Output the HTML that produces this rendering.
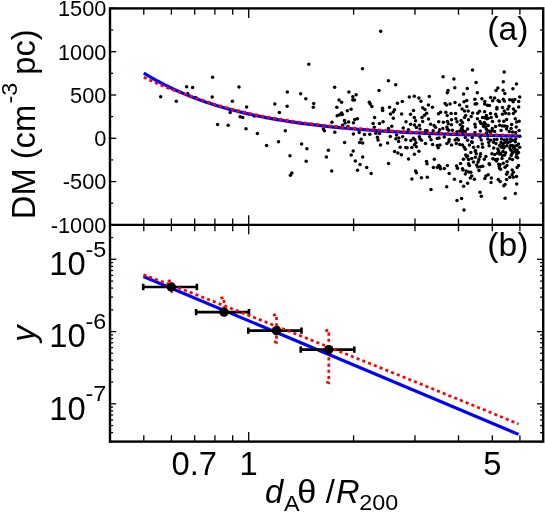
<!DOCTYPE html>
<html><head><meta charset="utf-8"><style>html,body{margin:0;padding:0;background:#fff}svg{display:block;will-change:transform}text{font-family:"Liberation Sans",sans-serif;fill:#000}</style></head><body>
<svg width="545" height="513" viewBox="0 0 545 513">
<rect width="545" height="513" fill="#fff"/>
<g fill="#000">
<circle cx="160.7" cy="96.8" r="1.75"/>
<circle cx="176.3" cy="101.2" r="1.75"/>
<circle cx="186.6" cy="86.7" r="1.75"/>
<circle cx="192.6" cy="87.4" r="1.75"/>
<circle cx="187.7" cy="93.5" r="1.75"/>
<circle cx="195.7" cy="97.4" r="1.75"/>
<circle cx="212.6" cy="77.2" r="1.75"/>
<circle cx="212.2" cy="97.0" r="1.75"/>
<circle cx="232.4" cy="101.2" r="1.75"/>
<circle cx="230.2" cy="112.6" r="1.75"/>
<circle cx="239.0" cy="86.9" r="1.75"/>
<circle cx="246.6" cy="107.1" r="1.75"/>
<circle cx="240.1" cy="116.8" r="1.75"/>
<circle cx="242.7" cy="117.5" r="1.75"/>
<circle cx="254.3" cy="116.1" r="1.75"/>
<circle cx="274.8" cy="104.0" r="1.75"/>
<circle cx="279.4" cy="112.4" r="1.75"/>
<circle cx="287.3" cy="91.9" r="1.75"/>
<circle cx="287.1" cy="106.3" r="1.75"/>
<circle cx="300.7" cy="93.7" r="1.75"/>
<circle cx="305.8" cy="98.8" r="1.75"/>
<circle cx="308.8" cy="64.3" r="1.75"/>
<circle cx="313.7" cy="103.6" r="1.75"/>
<circle cx="313.3" cy="107.3" r="1.75"/>
<circle cx="334.6" cy="87.3" r="1.75"/>
<circle cx="331.9" cy="122.2" r="1.75"/>
<circle cx="380.7" cy="31.3" r="1.75"/>
<circle cx="362.5" cy="68.7" r="1.75"/>
<circle cx="388.4" cy="80.8" r="1.75"/>
<circle cx="395.7" cy="84.7" r="1.75"/>
<circle cx="379.0" cy="90.4" r="1.75"/>
<circle cx="348.9" cy="91.9" r="1.75"/>
<circle cx="356.1" cy="94.8" r="1.75"/>
<circle cx="352.8" cy="96.8" r="1.75"/>
<circle cx="339.0" cy="100.1" r="1.75"/>
<circle cx="341.6" cy="102.3" r="1.75"/>
<circle cx="352.8" cy="100.1" r="1.75"/>
<circle cx="354.4" cy="100.1" r="1.75"/>
<circle cx="336.8" cy="107.3" r="1.75"/>
<circle cx="351.1" cy="109.3" r="1.75"/>
<circle cx="347.3" cy="110.8" r="1.75"/>
<circle cx="341.6" cy="113.1" r="1.75"/>
<circle cx="342.3" cy="114.6" r="1.75"/>
<circle cx="337.2" cy="115.7" r="1.75"/>
<circle cx="339.6" cy="114.8" r="1.75"/>
<circle cx="344.5" cy="120.5" r="1.75"/>
<circle cx="348.6" cy="122.1" r="1.75"/>
<circle cx="354.8" cy="119.5" r="1.75"/>
<circle cx="357.4" cy="118.7" r="1.75"/>
<circle cx="369.3" cy="102.3" r="1.75"/>
<circle cx="370.2" cy="104.1" r="1.75"/>
<circle cx="371.9" cy="106.5" r="1.75"/>
<circle cx="374.6" cy="117.4" r="1.75"/>
<circle cx="382.5" cy="108.2" r="1.75"/>
<circle cx="382.7" cy="110.4" r="1.75"/>
<circle cx="383.1" cy="121.7" r="1.75"/>
<circle cx="389.5" cy="107.3" r="1.75"/>
<circle cx="397.4" cy="103.2" r="1.75"/>
<circle cx="402.3" cy="101.4" r="1.75"/>
<circle cx="394.6" cy="109.7" r="1.75"/>
<circle cx="393.2" cy="112.0" r="1.75"/>
<circle cx="390.5" cy="114.0" r="1.75"/>
<circle cx="393.3" cy="118.3" r="1.75"/>
<circle cx="401.6" cy="114.0" r="1.75"/>
<circle cx="409.3" cy="97.0" r="1.75"/>
<circle cx="414.3" cy="96.3" r="1.75"/>
<circle cx="418.9" cy="98.1" r="1.75"/>
<circle cx="420.9" cy="101.2" r="1.75"/>
<circle cx="429.3" cy="96.6" r="1.75"/>
<circle cx="428.4" cy="104.9" r="1.75"/>
<circle cx="432.4" cy="107.3" r="1.75"/>
<circle cx="422.7" cy="107.8" r="1.75"/>
<circle cx="424.9" cy="109.5" r="1.75"/>
<circle cx="413.5" cy="110.4" r="1.75"/>
<circle cx="410.6" cy="114.2" r="1.75"/>
<circle cx="414.3" cy="117.4" r="1.75"/>
<circle cx="426.6" cy="113.3" r="1.75"/>
<circle cx="424.5" cy="115.2" r="1.75"/>
<circle cx="422.0" cy="117.6" r="1.75"/>
<circle cx="428.5" cy="118.9" r="1.75"/>
<circle cx="415.6" cy="120.8" r="1.75"/>
<circle cx="406.0" cy="121.8" r="1.75"/>
<circle cx="422.7" cy="121.5" r="1.75"/>
<circle cx="472.5" cy="70.1" r="1.75"/>
<circle cx="443.1" cy="76.7" r="1.75"/>
<circle cx="453.9" cy="79.1" r="1.75"/>
<circle cx="476.1" cy="82.6" r="1.75"/>
<circle cx="454.8" cy="87.8" r="1.75"/>
<circle cx="467.3" cy="88.4" r="1.75"/>
<circle cx="448.0" cy="90.6" r="1.75"/>
<circle cx="447.3" cy="92.8" r="1.75"/>
<circle cx="463.6" cy="94.0" r="1.75"/>
<circle cx="477.3" cy="92.8" r="1.75"/>
<circle cx="474.9" cy="99.3" r="1.75"/>
<circle cx="481.9" cy="98.8" r="1.75"/>
<circle cx="466.7" cy="100.4" r="1.75"/>
<circle cx="464.0" cy="101.8" r="1.75"/>
<circle cx="455.0" cy="102.5" r="1.75"/>
<circle cx="450.1" cy="103.9" r="1.75"/>
<circle cx="445.1" cy="103.5" r="1.75"/>
<circle cx="446.5" cy="105.0" r="1.75"/>
<circle cx="459.6" cy="105.0" r="1.75"/>
<circle cx="475.1" cy="103.9" r="1.75"/>
<circle cx="476.7" cy="103.8" r="1.75"/>
<circle cx="484.8" cy="101.6" r="1.75"/>
<circle cx="484.6" cy="104.0" r="1.75"/>
<circle cx="466.8" cy="106.6" r="1.75"/>
<circle cx="504.2" cy="72.1" r="1.75"/>
<circle cx="503.3" cy="81.8" r="1.75"/>
<circle cx="516.5" cy="83.9" r="1.75"/>
<circle cx="497.9" cy="88.1" r="1.75"/>
<circle cx="496.0" cy="90.4" r="1.75"/>
<circle cx="503.1" cy="90.3" r="1.75"/>
<circle cx="504.8" cy="93.4" r="1.75"/>
<circle cx="512.9" cy="88.7" r="1.75"/>
<circle cx="519.7" cy="96.9" r="1.75"/>
<circle cx="490.7" cy="97.4" r="1.75"/>
<circle cx="494.6" cy="98.0" r="1.75"/>
<circle cx="492.6" cy="100.8" r="1.75"/>
<circle cx="498.1" cy="100.6" r="1.75"/>
<circle cx="499.4" cy="101.5" r="1.75"/>
<circle cx="503.3" cy="99.3" r="1.75"/>
<circle cx="504.4" cy="101.1" r="1.75"/>
<circle cx="509.6" cy="99.7" r="1.75"/>
<circle cx="512.1" cy="100.1" r="1.75"/>
<circle cx="513.2" cy="101.7" r="1.75"/>
<circle cx="514.8" cy="99.4" r="1.75"/>
<circle cx="518.7" cy="101.6" r="1.75"/>
<circle cx="487.3" cy="105.2" r="1.75"/>
<circle cx="489.4" cy="105.5" r="1.75"/>
<circle cx="509.0" cy="106.2" r="1.75"/>
<circle cx="518.7" cy="106.9" r="1.75"/>
<circle cx="496.9" cy="107.6" r="1.75"/>
<circle cx="502.5" cy="107.4" r="1.75"/>
<circle cx="462.1" cy="109.1" r="1.75"/>
<circle cx="464.5" cy="111.0" r="1.75"/>
<circle cx="468.2" cy="111.0" r="1.75"/>
<circle cx="440.5" cy="112.3" r="1.75"/>
<circle cx="438.5" cy="113.7" r="1.75"/>
<circle cx="445.8" cy="112.3" r="1.75"/>
<circle cx="447.2" cy="115.6" r="1.75"/>
<circle cx="451.1" cy="113.4" r="1.75"/>
<circle cx="455.6" cy="113.4" r="1.75"/>
<circle cx="472.6" cy="113.1" r="1.75"/>
<circle cx="479.5" cy="111.2" r="1.75"/>
<circle cx="477.7" cy="113.3" r="1.75"/>
<circle cx="484.6" cy="111.7" r="1.75"/>
<circle cx="465.7" cy="115.6" r="1.75"/>
<circle cx="464.5" cy="117.4" r="1.75"/>
<circle cx="471.2" cy="116.5" r="1.75"/>
<circle cx="468.5" cy="119.7" r="1.75"/>
<circle cx="455.9" cy="118.8" r="1.75"/>
<circle cx="451.5" cy="119.7" r="1.75"/>
<circle cx="438.7" cy="121.7" r="1.75"/>
<circle cx="443.4" cy="122.2" r="1.75"/>
<circle cx="447.4" cy="121.5" r="1.75"/>
<circle cx="448.3" cy="123.8" r="1.75"/>
<circle cx="457.0" cy="121.8" r="1.75"/>
<circle cx="461.1" cy="120.6" r="1.75"/>
<circle cx="462.5" cy="122.4" r="1.75"/>
<circle cx="477.4" cy="118.8" r="1.75"/>
<circle cx="482.5" cy="117.4" r="1.75"/>
<circle cx="480.0" cy="121.5" r="1.75"/>
<circle cx="480.9" cy="123.3" r="1.75"/>
<circle cx="474.9" cy="124.3" r="1.75"/>
<circle cx="475.4" cy="127.0" r="1.75"/>
<circle cx="482.9" cy="124.3" r="1.75"/>
<circle cx="483.6" cy="126.6" r="1.75"/>
<circle cx="435.5" cy="127.2" r="1.75"/>
<circle cx="446.9" cy="127.0" r="1.75"/>
<circle cx="451.5" cy="124.7" r="1.75"/>
<circle cx="460.2" cy="124.7" r="1.75"/>
<circle cx="462.5" cy="126.6" r="1.75"/>
<circle cx="442.8" cy="128.4" r="1.75"/>
<circle cx="439.6" cy="129.8" r="1.75"/>
<circle cx="447.4" cy="129.3" r="1.75"/>
<circle cx="448.8" cy="130.2" r="1.75"/>
<circle cx="452.4" cy="130.2" r="1.75"/>
<circle cx="461.6" cy="128.4" r="1.75"/>
<circle cx="462.5" cy="129.8" r="1.75"/>
<circle cx="467.6" cy="129.0" r="1.75"/>
<circle cx="457.0" cy="131.8" r="1.75"/>
<circle cx="459.8" cy="131.1" r="1.75"/>
<circle cx="462.5" cy="131.6" r="1.75"/>
<circle cx="465.3" cy="131.4" r="1.75"/>
<circle cx="480.4" cy="131.1" r="1.75"/>
<circle cx="474.9" cy="132.5" r="1.75"/>
<circle cx="438.7" cy="132.5" r="1.75"/>
<circle cx="444.2" cy="137.1" r="1.75"/>
<circle cx="437.3" cy="138.5" r="1.75"/>
<circle cx="439.1" cy="138.0" r="1.75"/>
<circle cx="449.2" cy="139.4" r="1.75"/>
<circle cx="457.0" cy="138.5" r="1.75"/>
<circle cx="458.4" cy="139.9" r="1.75"/>
<circle cx="455.2" cy="139.9" r="1.75"/>
<circle cx="465.3" cy="137.6" r="1.75"/>
<circle cx="467.6" cy="140.3" r="1.75"/>
<circle cx="472.2" cy="137.6" r="1.75"/>
<circle cx="471.7" cy="141.7" r="1.75"/>
<circle cx="480.0" cy="137.1" r="1.75"/>
<circle cx="481.3" cy="139.9" r="1.75"/>
<circle cx="448.8" cy="141.7" r="1.75"/>
<circle cx="446.9" cy="143.5" r="1.75"/>
<circle cx="451.5" cy="145.1" r="1.75"/>
<circle cx="456.3" cy="143.5" r="1.75"/>
<circle cx="459.8" cy="144.6" r="1.75"/>
<circle cx="462.5" cy="145.1" r="1.75"/>
<circle cx="464.2" cy="147.2" r="1.75"/>
<circle cx="465.3" cy="149.3" r="1.75"/>
<circle cx="469.4" cy="145.1" r="1.75"/>
<circle cx="472.2" cy="142.6" r="1.75"/>
<circle cx="473.5" cy="147.2" r="1.75"/>
<circle cx="482.2" cy="144.0" r="1.75"/>
<circle cx="478.1" cy="146.7" r="1.75"/>
<circle cx="482.7" cy="147.2" r="1.75"/>
<circle cx="437.3" cy="145.4" r="1.75"/>
<circle cx="440.0" cy="145.1" r="1.75"/>
<circle cx="438.2" cy="147.7" r="1.75"/>
<circle cx="475.4" cy="150.6" r="1.75"/>
<circle cx="496.9" cy="108.9" r="1.75"/>
<circle cx="507.9" cy="108.9" r="1.75"/>
<circle cx="513.4" cy="109.1" r="1.75"/>
<circle cx="515.3" cy="111.2" r="1.75"/>
<circle cx="504.3" cy="111.0" r="1.75"/>
<circle cx="490.5" cy="113.4" r="1.75"/>
<circle cx="495.6" cy="114.2" r="1.75"/>
<circle cx="496.5" cy="116.5" r="1.75"/>
<circle cx="502.4" cy="114.2" r="1.75"/>
<circle cx="505.6" cy="113.3" r="1.75"/>
<circle cx="508.9" cy="113.7" r="1.75"/>
<circle cx="513.4" cy="113.4" r="1.75"/>
<circle cx="486.4" cy="115.6" r="1.75"/>
<circle cx="486.8" cy="118.8" r="1.75"/>
<circle cx="491.2" cy="117.4" r="1.75"/>
<circle cx="492.5" cy="121.5" r="1.75"/>
<circle cx="499.2" cy="121.1" r="1.75"/>
<circle cx="503.8" cy="121.3" r="1.75"/>
<circle cx="506.6" cy="119.5" r="1.75"/>
<circle cx="515.3" cy="118.8" r="1.75"/>
<circle cx="516.7" cy="122.0" r="1.75"/>
<circle cx="519.1" cy="121.3" r="1.75"/>
<circle cx="511.6" cy="124.4" r="1.75"/>
<circle cx="485.7" cy="124.3" r="1.75"/>
<circle cx="488.2" cy="125.6" r="1.75"/>
<circle cx="495.6" cy="126.6" r="1.75"/>
<circle cx="499.7" cy="125.2" r="1.75"/>
<circle cx="502.4" cy="126.1" r="1.75"/>
<circle cx="504.7" cy="126.1" r="1.75"/>
<circle cx="507.0" cy="126.6" r="1.75"/>
<circle cx="506.6" cy="128.9" r="1.75"/>
<circle cx="511.1" cy="128.4" r="1.75"/>
<circle cx="516.2" cy="127.0" r="1.75"/>
<circle cx="492.3" cy="128.4" r="1.75"/>
<circle cx="491.9" cy="130.7" r="1.75"/>
<circle cx="486.4" cy="129.3" r="1.75"/>
<circle cx="488.7" cy="131.1" r="1.75"/>
<circle cx="501.1" cy="130.5" r="1.75"/>
<circle cx="494.6" cy="131.6" r="1.75"/>
<circle cx="509.3" cy="131.6" r="1.75"/>
<circle cx="512.5" cy="132.1" r="1.75"/>
<circle cx="519.1" cy="130.5" r="1.75"/>
<circle cx="515.7" cy="132.5" r="1.75"/>
<circle cx="486.4" cy="133.0" r="1.75"/>
<circle cx="490.5" cy="133.0" r="1.75"/>
<circle cx="519.9" cy="136.2" r="1.75"/>
<circle cx="487.8" cy="138.9" r="1.75"/>
<circle cx="490.5" cy="140.3" r="1.75"/>
<circle cx="494.2" cy="139.4" r="1.75"/>
<circle cx="496.9" cy="139.4" r="1.75"/>
<circle cx="501.5" cy="138.9" r="1.75"/>
<circle cx="504.3" cy="139.9" r="1.75"/>
<circle cx="507.0" cy="139.4" r="1.75"/>
<circle cx="510.7" cy="138.9" r="1.75"/>
<circle cx="512.5" cy="140.3" r="1.75"/>
<circle cx="515.7" cy="138.9" r="1.75"/>
<circle cx="488.7" cy="142.6" r="1.75"/>
<circle cx="489.1" cy="145.8" r="1.75"/>
<circle cx="493.7" cy="142.2" r="1.75"/>
<circle cx="496.0" cy="143.5" r="1.75"/>
<circle cx="501.1" cy="142.6" r="1.75"/>
<circle cx="503.3" cy="143.5" r="1.75"/>
<circle cx="505.6" cy="142.2" r="1.75"/>
<circle cx="507.9" cy="142.6" r="1.75"/>
<circle cx="510.2" cy="141.7" r="1.75"/>
<circle cx="515.3" cy="141.7" r="1.75"/>
<circle cx="518.5" cy="144.0" r="1.75"/>
<circle cx="499.7" cy="145.4" r="1.75"/>
<circle cx="502.4" cy="145.8" r="1.75"/>
<circle cx="504.7" cy="146.7" r="1.75"/>
<circle cx="507.0" cy="145.8" r="1.75"/>
<circle cx="510.7" cy="145.4" r="1.75"/>
<circle cx="512.5" cy="145.4" r="1.75"/>
<circle cx="514.8" cy="146.3" r="1.75"/>
<circle cx="516.7" cy="145.4" r="1.75"/>
<circle cx="519.7" cy="147.2" r="1.75"/>
<circle cx="493.7" cy="148.1" r="1.75"/>
<circle cx="497.8" cy="149.0" r="1.75"/>
<circle cx="498.6" cy="150.9" r="1.75"/>
<circle cx="503.8" cy="148.1" r="1.75"/>
<circle cx="509.8" cy="148.1" r="1.75"/>
<circle cx="511.0" cy="150.2" r="1.75"/>
<circle cx="514.4" cy="149.0" r="1.75"/>
<circle cx="517.1" cy="150.0" r="1.75"/>
<circle cx="470.8" cy="152.6" r="1.75"/>
<circle cx="475.4" cy="151.4" r="1.75"/>
<circle cx="476.3" cy="153.7" r="1.75"/>
<circle cx="480.6" cy="153.7" r="1.75"/>
<circle cx="480.0" cy="156.4" r="1.75"/>
<circle cx="465.7" cy="155.0" r="1.75"/>
<circle cx="467.6" cy="156.0" r="1.75"/>
<circle cx="466.7" cy="156.9" r="1.75"/>
<circle cx="475.4" cy="157.3" r="1.75"/>
<circle cx="471.7" cy="158.4" r="1.75"/>
<circle cx="463.4" cy="159.2" r="1.75"/>
<circle cx="468.5" cy="159.6" r="1.75"/>
<circle cx="484.3" cy="159.2" r="1.75"/>
<circle cx="478.9" cy="159.6" r="1.75"/>
<circle cx="478.1" cy="161.9" r="1.75"/>
<circle cx="473.5" cy="161.9" r="1.75"/>
<circle cx="460.5" cy="163.6" r="1.75"/>
<circle cx="468.5" cy="163.8" r="1.75"/>
<circle cx="469.4" cy="165.4" r="1.75"/>
<circle cx="476.7" cy="165.1" r="1.75"/>
<circle cx="477.7" cy="167.0" r="1.75"/>
<circle cx="480.4" cy="166.7" r="1.75"/>
<circle cx="482.7" cy="166.3" r="1.75"/>
<circle cx="447.4" cy="165.4" r="1.75"/>
<circle cx="438.7" cy="165.6" r="1.75"/>
<circle cx="440.0" cy="166.5" r="1.75"/>
<circle cx="437.3" cy="167.6" r="1.75"/>
<circle cx="440.5" cy="168.8" r="1.75"/>
<circle cx="444.3" cy="168.6" r="1.75"/>
<circle cx="456.6" cy="166.1" r="1.75"/>
<circle cx="457.5" cy="168.3" r="1.75"/>
<circle cx="462.5" cy="168.8" r="1.75"/>
<circle cx="463.0" cy="170.0" r="1.75"/>
<circle cx="479.0" cy="170.4" r="1.75"/>
<circle cx="466.2" cy="171.1" r="1.75"/>
<circle cx="468.5" cy="172.0" r="1.75"/>
<circle cx="470.8" cy="172.3" r="1.75"/>
<circle cx="465.3" cy="174.0" r="1.75"/>
<circle cx="449.2" cy="173.4" r="1.75"/>
<circle cx="471.7" cy="176.1" r="1.75"/>
<circle cx="470.3" cy="178.0" r="1.75"/>
<circle cx="474.4" cy="179.2" r="1.75"/>
<circle cx="454.4" cy="179.2" r="1.75"/>
<circle cx="484.9" cy="178.4" r="1.75"/>
<circle cx="460.7" cy="181.5" r="1.75"/>
<circle cx="467.6" cy="183.2" r="1.75"/>
<circle cx="463.6" cy="186.3" r="1.75"/>
<circle cx="446.7" cy="186.7" r="1.75"/>
<circle cx="480.0" cy="192.2" r="1.75"/>
<circle cx="481.3" cy="196.3" r="1.75"/>
<circle cx="497.4" cy="153.2" r="1.75"/>
<circle cx="515.3" cy="150.9" r="1.75"/>
<circle cx="513.0" cy="152.6" r="1.75"/>
<circle cx="518.5" cy="152.6" r="1.75"/>
<circle cx="505.6" cy="152.8" r="1.75"/>
<circle cx="504.7" cy="155.0" r="1.75"/>
<circle cx="491.9" cy="153.7" r="1.75"/>
<circle cx="494.6" cy="154.6" r="1.75"/>
<circle cx="499.7" cy="154.1" r="1.75"/>
<circle cx="502.4" cy="155.5" r="1.75"/>
<circle cx="511.1" cy="155.5" r="1.75"/>
<circle cx="516.7" cy="154.6" r="1.75"/>
<circle cx="516.2" cy="156.9" r="1.75"/>
<circle cx="517.6" cy="157.8" r="1.75"/>
<circle cx="485.9" cy="156.6" r="1.75"/>
<circle cx="492.8" cy="158.7" r="1.75"/>
<circle cx="495.1" cy="159.6" r="1.75"/>
<circle cx="497.4" cy="159.2" r="1.75"/>
<circle cx="496.5" cy="161.0" r="1.75"/>
<circle cx="502.0" cy="158.4" r="1.75"/>
<circle cx="509.8" cy="158.7" r="1.75"/>
<circle cx="512.5" cy="159.4" r="1.75"/>
<circle cx="507.0" cy="161.5" r="1.75"/>
<circle cx="503.3" cy="163.3" r="1.75"/>
<circle cx="489.1" cy="163.8" r="1.75"/>
<circle cx="489.6" cy="164.5" r="1.75"/>
<circle cx="498.8" cy="164.2" r="1.75"/>
<circle cx="500.1" cy="164.7" r="1.75"/>
<circle cx="499.2" cy="166.5" r="1.75"/>
<circle cx="507.0" cy="165.6" r="1.75"/>
<circle cx="505.0" cy="167.2" r="1.75"/>
<circle cx="518.5" cy="165.4" r="1.75"/>
<circle cx="517.1" cy="167.4" r="1.75"/>
<circle cx="499.7" cy="168.3" r="1.75"/>
<circle cx="500.6" cy="169.3" r="1.75"/>
<circle cx="512.2" cy="170.0" r="1.75"/>
<circle cx="513.4" cy="172.3" r="1.75"/>
<circle cx="507.5" cy="172.3" r="1.75"/>
<circle cx="506.6" cy="174.3" r="1.75"/>
<circle cx="512.1" cy="174.8" r="1.75"/>
<circle cx="488.2" cy="174.8" r="1.75"/>
<circle cx="485.9" cy="176.1" r="1.75"/>
<circle cx="509.8" cy="177.2" r="1.75"/>
<circle cx="513.4" cy="177.2" r="1.75"/>
<circle cx="516.5" cy="176.4" r="1.75"/>
<circle cx="491.4" cy="178.0" r="1.75"/>
<circle cx="498.3" cy="179.4" r="1.75"/>
<circle cx="500.1" cy="181.4" r="1.75"/>
<circle cx="506.6" cy="179.5" r="1.75"/>
<circle cx="491.0" cy="182.4" r="1.75"/>
<circle cx="516.7" cy="184.1" r="1.75"/>
<circle cx="505.0" cy="184.4" r="1.75"/>
<circle cx="503.8" cy="185.8" r="1.75"/>
<circle cx="515.3" cy="193.4" r="1.75"/>
<circle cx="461.6" cy="198.4" r="1.75"/>
<circle cx="457.0" cy="200.6" r="1.75"/>
<circle cx="464.0" cy="210.1" r="1.75"/>
<circle cx="505.1" cy="198.2" r="1.75"/>
<circle cx="353.4" cy="122.7" r="1.75"/>
<circle cx="345.1" cy="123.1" r="1.75"/>
<circle cx="379.5" cy="123.4" r="1.75"/>
<circle cx="373.1" cy="123.6" r="1.75"/>
<circle cx="374.3" cy="127.3" r="1.75"/>
<circle cx="391.8" cy="126.2" r="1.75"/>
<circle cx="388.5" cy="128.6" r="1.75"/>
<circle cx="342.6" cy="125.2" r="1.75"/>
<circle cx="347.9" cy="126.4" r="1.75"/>
<circle cx="353.4" cy="134.1" r="1.75"/>
<circle cx="359.2" cy="132.6" r="1.75"/>
<circle cx="364.5" cy="134.4" r="1.75"/>
<circle cx="369.8" cy="134.2" r="1.75"/>
<circle cx="375.8" cy="133.2" r="1.75"/>
<circle cx="379.5" cy="133.4" r="1.75"/>
<circle cx="377.4" cy="137.3" r="1.75"/>
<circle cx="378.0" cy="140.0" r="1.75"/>
<circle cx="390.3" cy="136.5" r="1.75"/>
<circle cx="396.5" cy="135.0" r="1.75"/>
<circle cx="395.9" cy="138.7" r="1.75"/>
<circle cx="398.9" cy="138.1" r="1.75"/>
<circle cx="398.6" cy="141.6" r="1.75"/>
<circle cx="334.8" cy="132.2" r="1.75"/>
<circle cx="344.6" cy="142.4" r="1.75"/>
<circle cx="361.2" cy="139.3" r="1.75"/>
<circle cx="359.6" cy="142.4" r="1.75"/>
<circle cx="362.7" cy="143.0" r="1.75"/>
<circle cx="380.5" cy="144.9" r="1.75"/>
<circle cx="387.6" cy="143.0" r="1.75"/>
<circle cx="400.2" cy="147.3" r="1.75"/>
<circle cx="353.2" cy="151.0" r="1.75"/>
<circle cx="351.2" cy="155.1" r="1.75"/>
<circle cx="362.7" cy="156.9" r="1.75"/>
<circle cx="355.3" cy="161.1" r="1.75"/>
<circle cx="394.6" cy="151.4" r="1.75"/>
<circle cx="397.9" cy="152.9" r="1.75"/>
<circle cx="401.4" cy="154.7" r="1.75"/>
<circle cx="388.5" cy="163.5" r="1.75"/>
<circle cx="410.6" cy="124.3" r="1.75"/>
<circle cx="414.4" cy="124.9" r="1.75"/>
<circle cx="419.4" cy="125.3" r="1.75"/>
<circle cx="416.4" cy="127.6" r="1.75"/>
<circle cx="420.0" cy="129.1" r="1.75"/>
<circle cx="430.6" cy="124.3" r="1.75"/>
<circle cx="434.1" cy="125.6" r="1.75"/>
<circle cx="403.2" cy="128.1" r="1.75"/>
<circle cx="408.3" cy="129.7" r="1.75"/>
<circle cx="425.5" cy="130.7" r="1.75"/>
<circle cx="427.0" cy="130.4" r="1.75"/>
<circle cx="433.1" cy="130.7" r="1.75"/>
<circle cx="402.7" cy="136.7" r="1.75"/>
<circle cx="405.8" cy="139.8" r="1.75"/>
<circle cx="410.8" cy="140.5" r="1.75"/>
<circle cx="413.4" cy="138.3" r="1.75"/>
<circle cx="414.9" cy="139.8" r="1.75"/>
<circle cx="419.4" cy="136.7" r="1.75"/>
<circle cx="420.0" cy="138.8" r="1.75"/>
<circle cx="421.5" cy="140.3" r="1.75"/>
<circle cx="415.9" cy="142.8" r="1.75"/>
<circle cx="429.6" cy="136.7" r="1.75"/>
<circle cx="431.1" cy="139.8" r="1.75"/>
<circle cx="425.5" cy="143.5" r="1.75"/>
<circle cx="432.6" cy="144.5" r="1.75"/>
<circle cx="414.4" cy="144.8" r="1.75"/>
<circle cx="411.8" cy="147.4" r="1.75"/>
<circle cx="416.4" cy="146.7" r="1.75"/>
<circle cx="405.8" cy="147.4" r="1.75"/>
<circle cx="407.1" cy="147.7" r="1.75"/>
<circle cx="418.9" cy="151.2" r="1.75"/>
<circle cx="414.4" cy="154.3" r="1.75"/>
<circle cx="408.5" cy="159.0" r="1.75"/>
<circle cx="434.3" cy="159.3" r="1.75"/>
<circle cx="426.5" cy="161.6" r="1.75"/>
<circle cx="427.0" cy="163.8" r="1.75"/>
<circle cx="433.4" cy="167.4" r="1.75"/>
<circle cx="360.0" cy="164.4" r="1.75"/>
<circle cx="357.5" cy="170.2" r="1.75"/>
<circle cx="366.7" cy="167.6" r="1.75"/>
<circle cx="371.2" cy="173.4" r="1.75"/>
<circle cx="415.6" cy="170.9" r="1.75"/>
<circle cx="416.4" cy="172.7" r="1.75"/>
<circle cx="411.9" cy="179.1" r="1.75"/>
<circle cx="421.4" cy="177.8" r="1.75"/>
<circle cx="427.3" cy="177.3" r="1.75"/>
<circle cx="431.0" cy="189.4" r="1.75"/>
<circle cx="246.0" cy="128.7" r="1.75"/>
<circle cx="257.4" cy="133.4" r="1.75"/>
<circle cx="285.3" cy="130.7" r="1.75"/>
<circle cx="278.5" cy="141.7" r="1.75"/>
<circle cx="266.6" cy="145.4" r="1.75"/>
<circle cx="301.6" cy="143.9" r="1.75"/>
<circle cx="306.9" cy="148.7" r="1.75"/>
<circle cx="290.0" cy="155.8" r="1.75"/>
<circle cx="306.2" cy="161.3" r="1.75"/>
<circle cx="291.9" cy="172.9" r="1.75"/>
<circle cx="290.4" cy="175.3" r="1.75"/>
<circle cx="323.4" cy="128.9" r="1.75"/>
<circle cx="324.4" cy="130.7" r="1.75"/>
<circle cx="328.4" cy="150.3" r="1.75"/>
<circle cx="326.4" cy="156.9" r="1.75"/>
<circle cx="331.7" cy="171.1" r="1.75"/>
<circle cx="217.6" cy="124.4" r="1.75"/>
<circle cx="228.2" cy="125.3" r="1.75"/>
<circle cx="484.7" cy="117.8" r="1.75"/>
<circle cx="488.0" cy="118.2" r="1.75"/>
<circle cx="484.3" cy="122.5" r="1.75"/>
<circle cx="485.5" cy="127.2" r="1.75"/>
<circle cx="501.5" cy="147.3" r="1.75"/>
<circle cx="503.0" cy="151.5" r="1.75"/>
<circle cx="500.5" cy="153.5" r="1.75"/>
<circle cx="513.5" cy="148.0" r="1.75"/>
<circle cx="516.0" cy="151.8" r="1.75"/>
<circle cx="512.0" cy="153.5" r="1.75"/>
</g>
<polyline points="143.8,73.08 148.0,75.65 152.2,78.12 156.4,80.49 160.7,82.77 164.9,84.95 169.1,87.04 173.3,89.05 177.5,90.97 181.7,92.82 185.9,94.60 190.2,96.30 194.4,97.93 198.6,99.50 202.8,101.00 207.0,102.45 211.2,103.84 215.4,105.17 219.7,106.44 223.9,107.67 228.1,108.85 232.3,109.98 236.5,111.07 240.7,112.11 245.0,113.11 249.2,114.07 253.4,115.00 257.6,115.88 261.8,116.74 266.0,117.56 270.2,118.34 274.5,119.10 278.7,119.82 282.9,120.52 287.1,121.19 291.3,121.84 295.5,122.45 299.7,123.05 304.0,123.62 308.2,124.17 312.4,124.70 316.6,125.20 320.8,125.69 325.0,126.16 329.2,126.61 333.5,127.05 337.7,127.46 341.9,127.86 346.1,128.25 350.3,128.62 354.5,128.97 358.7,129.32 363.0,129.65 367.2,129.96 371.4,130.27 375.6,130.56 379.8,130.84 384.0,131.12 388.2,131.38 392.5,131.63 396.7,131.87 400.9,132.10 405.1,132.33 409.3,132.54 413.5,132.75 417.7,132.95 422.0,133.14 426.2,133.32 430.4,133.50 434.6,133.67 438.8,133.84 443.0,134.00 447.3,134.15 451.5,134.30 455.7,134.44 459.9,134.57 464.1,134.71 468.3,134.83 472.5,134.95 476.8,135.07 481.0,135.18 485.2,135.29 489.4,135.40 493.6,135.50 497.8,135.60 502.0,135.69 506.3,135.78 510.5,135.87 514.7,135.95 518.9,136.03" fill="none" stroke="#0000ff" stroke-width="3.2"/>
<polyline points="143.8,77.28 148.0,79.36 152.2,81.34 156.4,83.24 160.7,85.06 164.9,86.80 169.1,88.47 173.3,90.07 177.5,91.61 181.7,93.10 185.9,94.54 190.2,95.94 194.4,97.32 198.6,98.75 202.8,100.25 207.0,101.70 211.2,103.09 215.4,104.42 219.7,105.69 223.9,106.92 228.1,108.10 232.3,109.23 236.5,110.32 240.7,111.36 245.0,112.36 249.2,113.32 253.4,114.25 257.6,115.13 261.8,115.99 266.0,116.81 270.2,117.59 274.5,118.35 278.7,119.07 282.9,119.77 287.1,120.44 291.3,121.09 295.5,121.70 299.7,122.30 304.0,122.87 308.2,123.42 312.4,123.95 316.6,124.45 320.8,124.94 325.0,125.41 329.2,125.86 333.5,126.30 337.7,126.71 341.9,127.11 346.1,127.50 350.3,127.87 354.5,128.22 358.7,128.57 363.0,128.90 367.2,129.21 371.4,129.52 375.6,129.81 379.8,130.09 384.0,130.37 388.2,130.63 392.5,130.88 396.7,131.12 400.9,131.35 405.1,131.58 409.3,131.79 413.5,132.00 417.7,132.20 422.0,132.39 426.2,132.57 430.4,132.75 434.6,132.92 438.8,133.09 443.0,133.25 447.3,133.40 451.5,133.55 455.7,133.69 459.9,133.82 464.1,133.96 468.3,134.08 472.5,134.20 476.8,134.32 481.0,134.43 485.2,134.54 489.4,134.65 493.6,134.75 497.8,134.85 502.0,134.94 506.3,135.03 510.5,135.12 514.7,135.20 518.9,135.28" fill="none" stroke="#ff0000" stroke-width="2.7" stroke-dasharray="3.1 3.09"/>
<line x1="143.4" y1="276.5" x2="518.6" y2="434.4" stroke="#0000ff" stroke-width="3.2"/>
<path d="M167.8,281.3 L171.3,280.3 L171.3,291.7 L167.8,290.7" fill="none" stroke="#ff0000" stroke-width="2.7" stroke-dasharray="3.1 3.1"/>
<path d="M220.5,298.4 L224.0,297.4 L224.0,312.0 L220.5,311.0" fill="none" stroke="#ff0000" stroke-width="2.7" stroke-dasharray="3.1 3.1"/>
<path d="M273.0,315.4 L276.5,314.4 L276.5,342.3 L273.0,341.3" fill="none" stroke="#ff0000" stroke-width="2.7" stroke-dasharray="3.1 3.1"/>
<path d="M325.3,331.0 L328.8,330.0 L328.8,382.7 L325.3,381.7" fill="none" stroke="#ff0000" stroke-width="2.7" stroke-dasharray="3.1 3.1"/>
<path d="M143.2,287.0H196.9M143.2,283.8V290.2M196.9,283.8V290.2" stroke="#000" stroke-width="2.6" fill="none"/>
<path d="M196.1,312.1H249M196.1,308.90000000000003V315.3M249,308.90000000000003V315.3" stroke="#000" stroke-width="2.6" fill="none"/>
<path d="M248.3,330.6H301.5M248.3,327.40000000000003V333.8M301.5,327.40000000000003V333.8" stroke="#000" stroke-width="2.6" fill="none"/>
<path d="M300.7,349.6H354.3M300.7,346.40000000000003V352.8M354.3,346.40000000000003V352.8" stroke="#000" stroke-width="2.6" fill="none"/>
<polyline points="143.4,274.66 149.8,277.05 156.1,279.44 162.5,281.83 168.8,284.22 175.2,286.62 181.6,289.02 187.9,291.42 194.3,293.90 200.6,296.39 207.0,298.89 213.4,301.38 219.7,303.88 226.1,306.38 232.4,308.88 238.8,311.39 245.1,313.90 251.5,316.41 257.9,318.92 264.2,321.43 270.6,323.95 276.9,326.47 283.3,328.99 289.7,331.52 296.0,334.04 302.4,336.57 308.7,339.10 315.1,341.64 321.5,344.17 327.8,346.71 334.2,349.25 340.5,351.80 346.9,354.34 353.3,356.89 359.6,359.44 366.0,362.00 372.3,364.55 378.7,367.11 385.1,369.67 391.4,372.23 397.8,374.80 404.1,377.36 410.5,379.93 416.9,382.51 423.2,385.08 429.6,387.66 435.9,390.24 442.3,392.82 448.6,395.40 455.0,397.99 461.4,400.58 467.7,403.17 474.1,405.76 480.4,408.36 486.8,410.96 493.2,413.56 499.5,416.16 505.9,418.77 512.2,421.38 518.6,423.99" fill="none" stroke="#ff0000" stroke-width="2.7" stroke-dasharray="3.1 3.09"/>
<circle cx="171.3" cy="287.0" r="4.7" fill="#000"/>
<circle cx="224" cy="312.1" r="4.7" fill="#000"/>
<circle cx="276.5" cy="330.6" r="4.7" fill="#000"/>
<circle cx="328.8" cy="349.6" r="4.7" fill="#000"/>
<g stroke="#000" stroke-width="2.4" fill="none">
<rect x="110.0" y="8.4" width="433.20000000000005" height="433.20000000000005"/>
<line x1="110.0" y1="224.85" x2="543.2" y2="224.85"/>
</g>
<g stroke="#000" stroke-width="1.3" fill="none">
<line x1="143.8" y1="8.4" x2="143.8" y2="14.7"/>
<line x1="143.8" y1="218.54999999999998" x2="143.8" y2="231.15"/>
<line x1="143.8" y1="441.6" x2="143.8" y2="435.3"/>
<line x1="171.4" y1="8.4" x2="171.4" y2="14.7"/>
<line x1="171.4" y1="218.54999999999998" x2="171.4" y2="231.15"/>
<line x1="171.4" y1="441.6" x2="171.4" y2="435.3"/>
<line x1="194.7" y1="8.4" x2="194.7" y2="14.7"/>
<line x1="194.7" y1="218.54999999999998" x2="194.7" y2="231.15"/>
<line x1="194.7" y1="441.6" x2="194.7" y2="435.3"/>
<line x1="214.9" y1="8.4" x2="214.9" y2="14.7"/>
<line x1="214.9" y1="218.54999999999998" x2="214.9" y2="231.15"/>
<line x1="214.9" y1="441.6" x2="214.9" y2="435.3"/>
<line x1="232.7" y1="8.4" x2="232.7" y2="14.7"/>
<line x1="232.7" y1="218.54999999999998" x2="232.7" y2="231.15"/>
<line x1="232.7" y1="441.6" x2="232.7" y2="435.3"/>
<line x1="248.7" y1="8.4" x2="248.7" y2="17.9"/>
<line x1="248.7" y1="215.35" x2="248.7" y2="234.35"/>
<line x1="248.7" y1="441.6" x2="248.7" y2="432.1"/>
<line x1="353.6" y1="8.4" x2="353.6" y2="14.7"/>
<line x1="353.6" y1="218.54999999999998" x2="353.6" y2="231.15"/>
<line x1="353.6" y1="441.6" x2="353.6" y2="435.3"/>
<line x1="415.0" y1="8.4" x2="415.0" y2="14.7"/>
<line x1="415.0" y1="218.54999999999998" x2="415.0" y2="231.15"/>
<line x1="415.0" y1="441.6" x2="415.0" y2="435.3"/>
<line x1="458.5" y1="8.4" x2="458.5" y2="14.7"/>
<line x1="458.5" y1="218.54999999999998" x2="458.5" y2="231.15"/>
<line x1="458.5" y1="441.6" x2="458.5" y2="435.3"/>
<line x1="492.3" y1="8.4" x2="492.3" y2="14.7"/>
<line x1="492.3" y1="218.54999999999998" x2="492.3" y2="231.15"/>
<line x1="492.3" y1="441.6" x2="492.3" y2="435.3"/>
<line x1="519.9" y1="8.4" x2="519.9" y2="14.7"/>
<line x1="519.9" y1="218.54999999999998" x2="519.9" y2="231.15"/>
<line x1="519.9" y1="441.6" x2="519.9" y2="435.3"/>
<line x1="110.0" y1="224.8" x2="116.2" y2="224.8"/>
<line x1="543.2" y1="224.8" x2="537.0" y2="224.8"/>
<line x1="110.0" y1="203.2" x2="113.1" y2="203.2"/>
<line x1="543.2" y1="203.2" x2="540.1" y2="203.2"/>
<line x1="110.0" y1="181.6" x2="116.2" y2="181.6"/>
<line x1="543.2" y1="181.6" x2="537.0" y2="181.6"/>
<line x1="110.0" y1="159.9" x2="113.1" y2="159.9"/>
<line x1="543.2" y1="159.9" x2="540.1" y2="159.9"/>
<line x1="110.0" y1="138.3" x2="116.2" y2="138.3"/>
<line x1="543.2" y1="138.3" x2="537.0" y2="138.3"/>
<line x1="110.0" y1="116.6" x2="113.1" y2="116.6"/>
<line x1="543.2" y1="116.6" x2="540.1" y2="116.6"/>
<line x1="110.0" y1="95.0" x2="116.2" y2="95.0"/>
<line x1="543.2" y1="95.0" x2="537.0" y2="95.0"/>
<line x1="110.0" y1="73.3" x2="113.1" y2="73.3"/>
<line x1="543.2" y1="73.3" x2="540.1" y2="73.3"/>
<line x1="110.0" y1="51.7" x2="116.2" y2="51.7"/>
<line x1="543.2" y1="51.7" x2="537.0" y2="51.7"/>
<line x1="110.0" y1="30.0" x2="113.1" y2="30.0"/>
<line x1="543.2" y1="30.0" x2="540.1" y2="30.0"/>
<line x1="110.0" y1="8.4" x2="116.2" y2="8.4"/>
<line x1="543.2" y1="8.4" x2="537.0" y2="8.4"/>
<line x1="110.0" y1="441.6" x2="113.1" y2="441.6"/>
<line x1="543.2" y1="441.6" x2="540.1" y2="441.6"/>
<line x1="110.0" y1="432.6" x2="113.1" y2="432.6"/>
<line x1="543.2" y1="432.6" x2="540.1" y2="432.6"/>
<line x1="110.0" y1="425.6" x2="113.1" y2="425.6"/>
<line x1="543.2" y1="425.6" x2="540.1" y2="425.6"/>
<line x1="110.0" y1="419.9" x2="113.1" y2="419.9"/>
<line x1="543.2" y1="419.9" x2="540.1" y2="419.9"/>
<line x1="110.0" y1="415.0" x2="113.1" y2="415.0"/>
<line x1="543.2" y1="415.0" x2="540.1" y2="415.0"/>
<line x1="110.0" y1="410.8" x2="113.1" y2="410.8"/>
<line x1="543.2" y1="410.8" x2="540.1" y2="410.8"/>
<line x1="110.0" y1="407.1" x2="113.1" y2="407.1"/>
<line x1="543.2" y1="407.1" x2="540.1" y2="407.1"/>
<line x1="110.0" y1="403.8" x2="116.2" y2="403.8"/>
<line x1="543.2" y1="403.8" x2="537.0" y2="403.8"/>
<line x1="110.0" y1="382.1" x2="113.1" y2="382.1"/>
<line x1="543.2" y1="382.1" x2="540.1" y2="382.1"/>
<line x1="110.0" y1="369.4" x2="113.1" y2="369.4"/>
<line x1="543.2" y1="369.4" x2="540.1" y2="369.4"/>
<line x1="110.0" y1="360.3" x2="113.1" y2="360.3"/>
<line x1="543.2" y1="360.3" x2="540.1" y2="360.3"/>
<line x1="110.0" y1="353.3" x2="113.1" y2="353.3"/>
<line x1="543.2" y1="353.3" x2="540.1" y2="353.3"/>
<line x1="110.0" y1="347.6" x2="113.1" y2="347.6"/>
<line x1="543.2" y1="347.6" x2="540.1" y2="347.6"/>
<line x1="110.0" y1="342.8" x2="113.1" y2="342.8"/>
<line x1="543.2" y1="342.8" x2="540.1" y2="342.8"/>
<line x1="110.0" y1="338.6" x2="113.1" y2="338.6"/>
<line x1="543.2" y1="338.6" x2="540.1" y2="338.6"/>
<line x1="110.0" y1="334.9" x2="113.1" y2="334.9"/>
<line x1="543.2" y1="334.9" x2="540.1" y2="334.9"/>
<line x1="110.0" y1="331.6" x2="116.2" y2="331.6"/>
<line x1="543.2" y1="331.6" x2="537.0" y2="331.6"/>
<line x1="110.0" y1="309.8" x2="113.1" y2="309.8"/>
<line x1="543.2" y1="309.8" x2="540.1" y2="309.8"/>
<line x1="110.0" y1="297.1" x2="113.1" y2="297.1"/>
<line x1="543.2" y1="297.1" x2="540.1" y2="297.1"/>
<line x1="110.0" y1="288.1" x2="113.1" y2="288.1"/>
<line x1="543.2" y1="288.1" x2="540.1" y2="288.1"/>
<line x1="110.0" y1="281.1" x2="113.1" y2="281.1"/>
<line x1="543.2" y1="281.1" x2="540.1" y2="281.1"/>
<line x1="110.0" y1="275.4" x2="113.1" y2="275.4"/>
<line x1="543.2" y1="275.4" x2="540.1" y2="275.4"/>
<line x1="110.0" y1="270.5" x2="113.1" y2="270.5"/>
<line x1="543.2" y1="270.5" x2="540.1" y2="270.5"/>
<line x1="110.0" y1="266.3" x2="113.1" y2="266.3"/>
<line x1="543.2" y1="266.3" x2="540.1" y2="266.3"/>
<line x1="110.0" y1="262.6" x2="113.1" y2="262.6"/>
<line x1="543.2" y1="262.6" x2="540.1" y2="262.6"/>
<line x1="110.0" y1="259.3" x2="116.2" y2="259.3"/>
<line x1="543.2" y1="259.3" x2="537.0" y2="259.3"/>
<line x1="110.0" y1="237.6" x2="113.1" y2="237.6"/>
<line x1="543.2" y1="237.6" x2="540.1" y2="237.6"/>
</g>
<text transform="translate(106.40,16.30)" font-size="21.8" text-anchor="end">1500</text>
<text transform="translate(106.40,59.59)" font-size="21.8" text-anchor="end">1000</text>
<text transform="translate(106.40,102.88)" font-size="21.8" text-anchor="end">500</text>
<text transform="translate(106.40,146.17)" font-size="21.8" text-anchor="end">0</text>
<text transform="translate(106.40,189.46)" font-size="21.8" text-anchor="end">-500</text>
<text transform="translate(106.40,232.75)" font-size="21.8" text-anchor="end">-1000</text>
<text transform="translate(49.20,275.12)" font-size="32.7">10</text>
<text transform="translate(85.60,256.52) scale(1.085,1)" font-size="21.5">-5</text>
<text transform="translate(49.20,347.37)" font-size="32.7">10</text>
<text transform="translate(85.60,328.77) scale(1.085,1)" font-size="21.5">-6</text>
<text transform="translate(49.20,419.62)" font-size="32.7">10</text>
<text transform="translate(85.60,401.02) scale(1.085,1)" font-size="21.5">-7</text>
<text transform="translate(171.60,475.20)" font-size="32.7">0.7</text>
<text transform="translate(248.68,475.20)" font-size="32.7" text-anchor="middle">1</text>
<text transform="translate(492.27,475.20)" font-size="32.7" text-anchor="middle">5</text>
<text transform="translate(35.00,219.20) rotate(-90)" font-size="32.7">DM (cm</text>
<text transform="translate(16.50,103.60) rotate(-90) scale(1.085,1)" font-size="21.5">-3</text>
<text transform="translate(35.00,74.80) rotate(-90)" font-size="32.7">pc)</text>
<text transform="translate(35.40,341.70) rotate(-90)" font-size="32.7" font-style="italic">y</text>
<text transform="translate(264.90,503.20)" font-size="32.7" font-style="italic">d</text>
<text transform="translate(284.00,510.50) scale(1.085,1)" font-size="21.5">A</text>
<text transform="translate(297.20,503.20) scale(1.05,1)" font-size="32.7">θ</text>
<text transform="translate(325.80,503.20)" font-size="32.7">/</text>
<text transform="translate(335.90,503.20)" font-size="32.7" font-style="italic">R</text>
<text transform="translate(359.20,510.40) scale(1.085,1)" font-size="21.5">200</text>
<text transform="translate(487.30,39.70) scale(1.03,1)" font-size="32.7">(a)</text>
<text transform="translate(487.30,255.60) scale(1.03,1)" font-size="32.7">(b)</text>
</svg></body></html>
